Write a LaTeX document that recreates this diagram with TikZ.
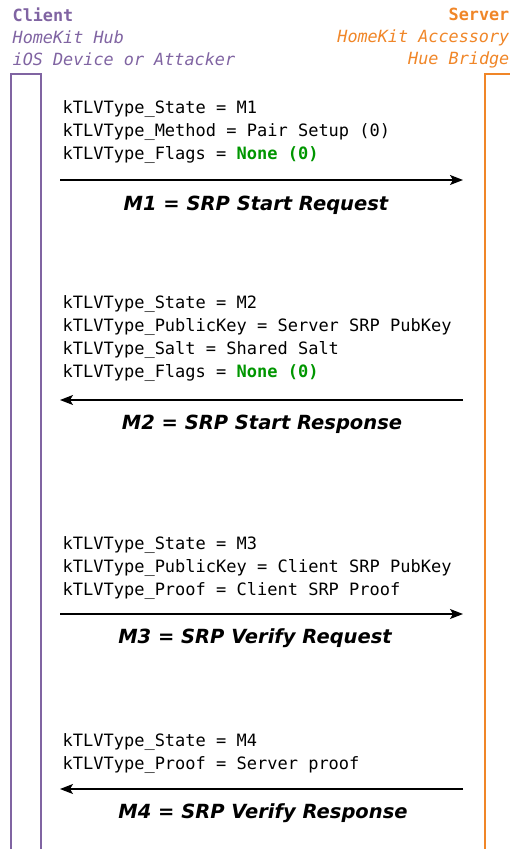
\documentclass[tikz,border=0pt]{standalone}
\usepackage{fontspec}
\setmonofont{DejaVu Sans Mono}
\setsansfont{DejaVu Sans}
\usetikzlibrary{arrows.meta}

\definecolor{hubpurple}{RGB}{128,100,162}
\definecolor{bridgeorange}{RGB}{240,134,40}
\definecolor{flaggreen}{RGB}{0,150,0}
\newcommand{\flagval}[1]{\textcolor{flaggreen}{\textbf{#1}}}

\tikzset{
  hdr/.style={inner sep=0pt,font=\ttfamily\fontsize{16.8}{22}\selectfont},
  tlv/.style={anchor=north west,align=left,inner sep=0pt,font=\ttfamily\fontsize{17}{23}\selectfont},
  msg/.style={inner sep=0pt,font=\sffamily\bfseries\itshape\fontsize{19.5}{23}\selectfont},
  life/.style={draw,line width=2pt,anchor=north west,minimum width=30pt,minimum height=800pt},
}

\begin{document}
\begin{tikzpicture}[x=1pt,y=-1pt,>={Stealth[length=13pt,width=10pt,inset=3pt]},line width=1.3pt]
  \clip (0,0) rectangle (510,849);

  % who talks to whom
  \node[hdr,anchor=north west,align=left,text=hubpurple] (H0) at (12,7)
    {\textbf{Client}\\\textit{HomeKit Hub}\\\textit{iOS Device or Attacker}};
  \node[hdr,anchor=north east,align=right,text=bridgeorange] (H1) at (510,7)
    {\textbf{Server}\\\textit{HomeKit Accessory}\\\textit{Hue Bridge}};
  \node[life,draw=hubpurple] (C) at (10,73) {};
  \node[life,draw=bridgeorange] (S) at (484,73) {};

  % M1
  \node[tlv] (T1) at (62,100) {kTLVType\_State = M1\\kTLVType\_Method = Pair Setup (0)\\kTLVType\_Flags = \flagval{None (0)}};
  \coordinate (A1) at (60,180);
  \coordinate (B1) at (463,180);
  \node[msg] (L1) at (256,205) {M1 = SRP Start Request};

  % M2
  \node[tlv] (T2) at (62,295) {kTLVType\_State = M2\\kTLVType\_PublicKey = Server SRP PubKey\\kTLVType\_Salt = Shared Salt\\kTLVType\_Flags = \flagval{None (0)}};
  \coordinate (A2) at (60,400);
  \coordinate (B2) at (463,400);
  \node[msg] (L2) at (262,424) {M2 = SRP Start Response};

  % M3
  \node[tlv] (T3) at (62,536) {kTLVType\_State = M3\\kTLVType\_PublicKey = Client SRP PubKey\\kTLVType\_Proof = Client SRP Proof};
  \coordinate (A3) at (60,614);
  \coordinate (B3) at (463,614);
  \node[msg] (L3) at (255,638) {M3 = SRP Verify Request};

  % M4
  \node[tlv] (T4) at (62,733) {kTLVType\_State = M4\\kTLVType\_Proof = Server proof};
  \coordinate (A4) at (60,789);
  \coordinate (B4) at (463,789);
  \node[msg] (L4) at (263,813) {M4 = SRP Verify Response};

  \path[->] (A1) edge (B1) (B2) edge (A2)
            (A3) edge (B3) (B4) edge (A4);
\end{tikzpicture}
\end{document}
